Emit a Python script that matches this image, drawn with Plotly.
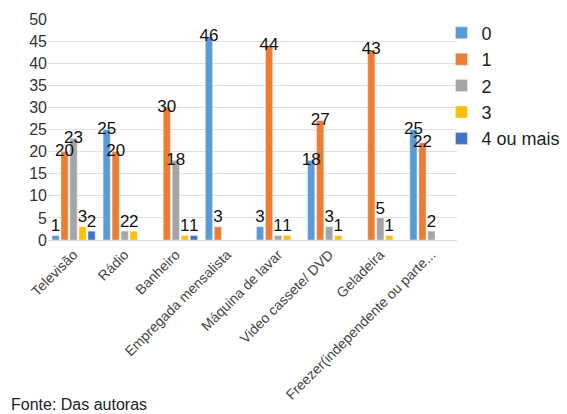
import plotly.graph_objects as go

categories = ["Televisão", "Rádio", "Banheiro", "Empregada mensalista",
              "Máquina de lavar", "Video cassete/ DVD", "Geladeira",
              "Freezer(independente ou parte..."]
series_names = ["0", "1", "2", "3", "4 ou mais"]
s0 = [1, 25, None, 46, 3, 18, None, 25]
s1 = [20, 20, 30, 3, 44, 27, 43, 22]
s2 = [23, 2, 18, None, 1, 3, 5, 2]
s3 = [3, 2, 1, None, 1, 1, 1, None]
s4 = [2, None, 1, None, None, None, None, None]
colors = ["#5B9BD5", "#ED7D31", "#A5A5A5", "#FFC000", "#4472C4"]
y_ticks = [0, 5, 10, 15, 20, 25, 30, 35, 40, 45, 50]

fig = go.Figure()
all_series = [s0, s1, s2, s3, s4]
for name, vals, col in zip(series_names, all_series, colors):
    fig.add_trace(go.Bar(
        x=categories, y=vals, name=name, marker_color=col,
        offsetgroup=name,
    ))
for name, vals in zip(series_names, all_series):
    fig.add_trace(go.Scatter(
        x=categories, y=vals, mode="text", showlegend=False,
        offsetgroup=name, hoverinfo="skip",
        text=[("" if v is None else str(v)) for v in vals],
        textposition=[("top center" if (v is not None and v < 10) else "middle center")
                      for v in vals],
        cliponaxis=False,
        textfont=dict(family="Liberation Sans, Arial", size=17, color="#111111"),
    ))

fig.update_layout(
    width=567, height=414,
    margin=dict(l=48, r=110, t=19, b=174, autoexpand=False),
    paper_bgcolor="white", plot_bgcolor="white",
    barmode="group", bargap=0.12, bargroupgap=0.2,
    scattermode="group", scattergap=0.12,
    font=dict(family="Liberation Sans, Arial", color="#404040"),
    legend=dict(x=0.962, y=1.02, xanchor="left", yanchor="top",
                font=dict(size=18, color="#222222"), itemwidth=30,
                tracegroupgap=0, bgcolor="rgba(0,0,0,0)"),
    xaxis=dict(tickangle=-45, tickfont=dict(size=14, color="#444444"),
               showline=True, linecolor="#D9D9D9", ticks=""),
    yaxis=dict(range=[0, 50], tickvals=y_ticks, showgrid=True,
               gridcolor="#E0E0E0", zeroline=False,
               tickfont=dict(size=16, color="#333333")),
    annotations=[dict(text="Fonte: Das autoras", xref="paper", yref="paper",
                      x=-0.095, y=-0.745, xanchor="left", yanchor="middle",
                      showarrow=False, font=dict(size=16, color="#222222"))],
)

fig.write_html("out.html")
